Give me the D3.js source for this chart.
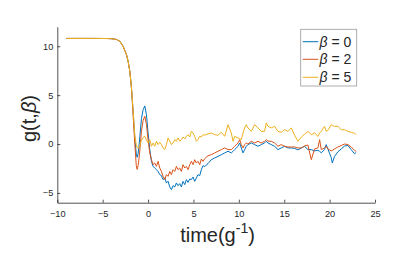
<!DOCTYPE html>
<html>
<head>
<meta charset="utf-8">
<script src="https://cdn.jsdelivr.net/npm/d3@7"></script>
<style>
  body { margin: 0; background: #fff; }
  svg { display: block; font-family: "Liberation Sans", Arial, sans-serif; }
</style>
</head>
<body>
<div id="chart"></div>
<script>
// g(t, beta) for three values of beta

const times = [
  -9, -6, -4.5, -4, -3.5, -3.1, -2.75, -2.38, -2.2, -2.01, -1.83, -1.65, -1.46, -1.3, -1.2, -1.1, -1.0, -0.9, -0.73, -0.55,
  -0.36, -0.18, 0, 0.19, 0.37, 0.55, 0.73, 0.92, 1.1, 1.29, 1.47, 1.65, 1.84, 2.02, 2.2, 2.39, 2.57, 2.75, 2.94, 3.12,
  3.3, 3.49, 3.67, 3.85, 4.04, 4.22, 4.4, 4.59, 4.77, 4.95, 5.14, 5.32, 5.5, 5.69, 5.87, 6.05, 6.24, 6.6, 6.97, 7.34,
  7.71, 8.07, 8.44, 8.81, 9.17, 9.36, 9.54, 9.91, 10.09, 10.27, 10.46, 10.64, 10.82, 11.0, 11.37, 11.74, 12.11, 12.47, 12.84, 13.02,
  13.21, 13.57, 13.94, 14.31, 14.67, 15.04, 15.41, 15.78, 16.14, 16.51, 16.88, 17.24, 17.61, 17.98, 18.34, 18.71, 18.9, 19.08, 19.44, 19.62,
  19.81, 20.18, 20.3, 20.54, 20.91, 21.28, 21.64, 22.01, 22.38, 22.74, 22.92
];

const beta0 = [
  10.8, 10.8, 10.79, 10.77, 10.7, 10.5, 10.0, 9.15, 8.46, 7.44, 5.74, 3.35, 0.6, -1.0, -1.36, -1.0, -0.2, 0.8, 2.6, 3.5,
  3.9, 3.0, 1.13, -0.57, -1.77, -2.28, -2.45, -2.62, -2.8, -3.13, -3.23, -3.64, -3.47, -3.98, -3.8, -4.39, -4.67, -4.26, -4.39, -3.98,
  -4.26, -4.05, -4.39, -3.82, -4.15, -3.64, -3.92, -3.57, -3.64, -3.37, -3.82, -3.47, -3.13, -3.23, -2.62, -2.21, -2.3, -2.0, -1.6, -1.43,
  -1.26, -1.09, -0.91, -0.74, -0.91, -0.74, -0.57, -0.23, 0.11, -0.4, -0.91, -0.57, -0.23, -0.06, 0.11, -0.06, -0.23, -0.06, 0.11, 0.28,
  0.11, -0.06, -0.23, -0.57, -0.4, -0.23, -0.4, -0.4, -0.45, -0.6, -0.4, -0.23, -0.57, -0.57, -0.7, -0.65, -0.74, -0.9, -0.57, -0.06,
  -0.5, -1.4, -1.94, -1.26, -0.8, -0.5, -0.2, -0.15, -0.57, -1.0, -0.85
];

const beta2 = [
  10.8, 10.8, 10.79, 10.77, 10.7, 10.5, 10.0, 9.15, 8.46, 7.44, 5.74, 3.0, 0.0, -2.2, -2.6, -2.2, -1.5, -0.6, 1.3, 2.4,
  2.84, 2.0, 0.45, -0.91, -1.6, -2.1, -1.94, -2.28, -1.77, -2.45, -2.8, -3.3, -3.64, -3.13, -3.3, -2.8, -3.13, -2.62, -2.8, -2.28,
  -2.62, -2.45, -2.8, -2.11, -2.45, -2.28, -2.62, -2.11, -1.77, -2.11, -1.6, -1.94, -1.77, -2.11, -1.53, -1.77, -1.5, -1.2, -1.09, -0.91,
  -0.74, -0.57, -0.4, -0.57, -0.57, -0.4, -0.23, 0.11, 0.45, -0.06, -0.4, -0.06, 0.11, 0.0, 0.28, 0.11, 0.28, 0.11, 0.28, 0.45,
  0.3, 0.28, 0.11, -0.23, -0.06, -0.23, -0.3, -0.3, -0.3, -0.4, -0.4, -0.2, -0.1, -1.6, -0.5, -0.4, 0.45, -0.57, -0.4, -0.23,
  -0.5, -0.7, -0.65, -0.5, -0.3, -0.15, 0.0, -0.05, -0.3, -0.65, -0.74
];

const beta5 = [
  10.8, 10.8, 10.79, 10.77, 10.7, 10.5, 10.0, 9.15, 8.46, 7.44, 5.74, 3.5, 0.9, -0.1, -0.35, -0.4, -0.4, -0.1, 0.4, 0.65,
  0.8, 0.4, 0.11, 0.45, -0.23, 0.11, -0.23, 0.28, -0.06, 0.18, -0.06, -0.4, -0.57, -0.06, 0.62, 0.28, -0.06, 0.11, 0.45, 0.28,
  0.62, 0.28, 0.45, 0.72, 0.52, 0.79, 0.96, 0.72, 1.3, 1.13, 0.79, 0.28, 0.45, 0.79, 0.72, 0.96, 0.9, 1.05, 1.13, 0.96,
  0.9, 1.2, 0.79, 1.98, 1.13, 0.28, 0.79, 0.62, 0.55, 0.45, 1.13, 1.65, 1.98, 1.65, 1.3, 1.98, 1.65, 1.3, 1.3, 2.16,
  1.81, 1.65, 1.81, 1.3, 1.2, 1.47, 1.3, 1.65, 0.9, 0.28, 0.7, 1.0, 1.3, 0.96, 1.13, 0.79, 1.13, 1.3, 1.81, 1.3,
  1.4, 1.98, 1.9, 1.81, 1.81, 1.47, 1.47, 1.3, 1.2, 1.1, 0.96
];

const seriesNames = ["0", "2", "5"];
const seriesColors = ["#0072BD", "#D95319", "#EDB120"];
const xTicks = [-10, -5, 0, 5, 10, 15, 20, 25];
const yTicks = [-5, 0, 5, 10];

const width = 407, height = 253;
const margin = {top: 26.7, right: 32, bottom: 50.3, left: 57.3};
const innerW = width - margin.left - margin.right,
      innerH = height - margin.top - margin.bottom;

const svg = d3.select("#chart")
  .append("svg")
    .attr("width", width)
    .attr("height", height);

const g = svg.append("g")
  .attr("transform", `translate(${margin.left},${margin.top})`);

const x = d3.scaleLinear().domain([-10, 25]).range([0, innerW]);
const y = d3.scaleLinear().domain([-6, 12]).range([innerH, 0]);

// Axes (MATLAB style: ticks pointing inward, no box)
const xAxis = g.append("g")
  .attr("transform", `translate(0,${innerH})`)
  .call(d3.axisBottom(x).tickValues(xTicks).tickSizeInner(-3).tickSizeOuter(0).tickPadding(8));
const yAxis = g.append("g")
  .call(d3.axisLeft(y).tickValues(yTicks).tickSizeInner(-3).tickSizeOuter(0).tickPadding(4));

[xAxis, yAxis].forEach(ax => {
  ax.select(".domain").attr("stroke", "#262626").attr("stroke-width", 0.8);
  ax.selectAll(".tick line").attr("stroke", "#262626").attr("stroke-width", 0.8);
  ax.selectAll(".tick text")
    .attr("fill", "#262626")
    .style("font-size", "9.2px")
    .style("font-family", "'Liberation Sans', Arial, sans-serif");
});

// Lines
const series = [beta0, beta2, beta5];
const line = d3.line()
  .x((d, i) => x(times[i]))
  .y(d => y(d));

series.forEach((vals, k) => {
  g.append("path")
    .datum(vals)
    .attr("fill", "none")
    .attr("stroke", seriesColors[k])
    .attr("stroke-width", 1)
    .attr("stroke-linejoin", "round")
    .attr("d", line);
});

// Axis labels
svg.append("text")
  .attr("transform", "translate(36,118.5) rotate(-90)")
  .attr("text-anchor", "middle")
  .style("font-size", "20px")
  .attr("fill", "#262626")
  .call(t => {
    t.append("tspan").text("g(t,");
    t.append("tspan").style("font-style", "italic").text("β");
    t.append("tspan").text(")");
  });

const xl = svg.append("text")
  .attr("x", 217.5)
  .attr("y", 242.3)
  .attr("text-anchor", "middle")
  .style("font-size", "20px")
  .attr("fill", "#262626");
xl.append("tspan").text("time(g");
xl.append("tspan").attr("dy", -9).style("font-size", "14px").text("-1");
xl.append("tspan").attr("dy", 9).text(")");

// Legend
const legend = svg.append("g");
legend.append("rect")
  .attr("x", 300.7).attr("y", 29.3)
  .attr("width", 56).attr("height", 56.7)
  .attr("fill", "#fff")
  .attr("stroke", "#9a9a9a")
  .attr("stroke-width", 0.8);

const legendY = [41.7, 59.3, 77.3];
seriesNames.forEach((name, k) => {
  legend.append("line")
    .attr("x1", 302.7).attr("x2", 318.3)
    .attr("y1", legendY[k]).attr("y2", legendY[k])
    .attr("stroke", seriesColors[k])
    .attr("stroke-width", 1);
  const t = legend.append("text")
    .attr("x", 319.5)
    .attr("y", legendY[k] + 5)
    .style("font-size", "14px")
    .attr("fill", "#262626");
  t.append("tspan").style("font-style", "italic").text("β");
  t.append("tspan").text(" = " + name);
});
</script>
</body>
</html>
